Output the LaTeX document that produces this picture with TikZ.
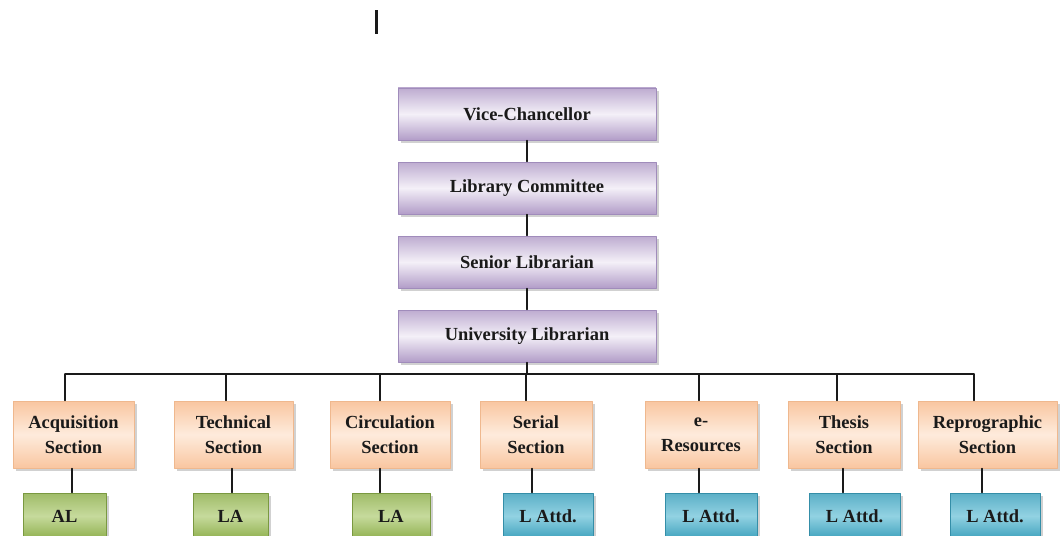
\documentclass[tikz,border=0pt]{standalone}
\usepackage{fontspec}
\setmainfont{Liberation Serif}
\usetikzlibrary{shadows,positioning,calc}
\definecolor{libink}{HTML}{1A1A1A}
\definecolor{libpurple}{HTML}{B29DC8}
\definecolor{libpurplelt}{HTML}{F4F0F8}
\definecolor{libpurpleln}{HTML}{A08CBB}
\definecolor{liborange}{HTML}{F9C6A0}
\definecolor{liborangelt}{HTML}{FEEBDC}
\definecolor{liborangeln}{HTML}{EFB88E}
\definecolor{libgreen}{HTML}{8FB04E}
\definecolor{libgreenlt}{HTML}{C6DA9C}
\definecolor{libgreenln}{HTML}{7A9940}
\definecolor{libblue}{HTML}{3EA1BD}
\definecolor{libbluelt}{HTML}{92D2E2}
\definecolor{libblueln}{HTML}{348EA8}

\begin{document}
\begin{tikzpicture}[x=0.02cm,y=-0.02cm,line cap=round,line join=round,
  font=\bfseries\fontsize{10.5}{14}\selectfont,text=libink,
  link/.style={draw=libink,line width=0.7pt},
  box/.style={draw,line width=0.5pt,align=center,inner sep=1pt,
    drop shadow={shadow xshift=1.8pt,shadow yshift=-1.8pt,fill=black!40,opacity=.45}},
  head/.style={box,draw=libpurpleln,top color=libpurple!85,bottom color=libpurple,
    middle color=libpurplelt,minimum width=5.16cm,minimum height=1.04cm},
  sec/.style={box,draw=liborangeln,top color=liborange,bottom color=liborange,
    middle color=liborangelt,minimum height=1.34cm},
  greenbox/.style={box,draw=libgreenln,top color=libgreen!85,bottom color=libgreen,
    middle color=libgreenlt,minimum height=0.92cm},
  bluebox/.style={box,draw=libblueln,top color=libblue!85,bottom color=libblue,
    middle color=libbluelt,minimum height=0.92cm}]
\path[use as bounding box] (0,0) rectangle (1061,536);
\fill[white] (0,0) rectangle (1061,536);
% stray mark above the chart
\fill[libink] (375,10) rectangle (378,34);
% top of the hierarchy
\node[head] (vc) at (527,114) {Vice-Chancellor};
\node[head] (lc) at (527,188) {Library Committee};
\node[head] (sl) at (527,262) {Senior Librarian};
\node[head] (ul) at (527,336) {University Librarian};
\draw[link] (vc)--(lc) (lc)--(sl) (sl)--(ul);
% sections
\foreach \n/\cx/\w/\lbl in {acq/73.5/121/{Acquisition\\Section},
    tech/233.5/119/{Technical\\Section},circ/390/120/{Circulation\\Section},
    ser/536/112/{Serial\\Section},eres/701/112/{e-\\Resources},
    thes/844/112/{Thesis\\Section},repro/987.5/139/{Reprographic\\Section}}
  \node[sec,minimum width=\w*0.02cm] (\n) at (\cx,434.5) {\lbl};
\coordinate (bus) at (527,374);
\draw[link] (ul)--(ul |- bus);
% drops from the bus sit a little left of each box centre
\foreach \n/\dx/\sx in {acq/-8.5/-1.5,tech/-7.5/-1.5,circ/-10/-10,ser/-10/-4,
    eres/-2/-2,thes/-7/-1,repro/-13.5/-5.5}{
  \coordinate (\n-in) at ($(\n.north)+(\dx,0)$);
  \coordinate (\n-out) at ($(\n.south)+(\sx,0)$);
  \draw[link] (\n-in |- bus)--(\n-in);
}
\draw[link] (acq-in |- bus)--(repro-in |- bus);
% staff under each section
\foreach \n/\cx/\w/\lbl in {al/64.5/83/AL,latech/230.5/75/LA,lacirc/391/78/LA}
  \node[greenbox,minimum width=\w*0.02cm] (\n) at (\cx,516) {\lbl};
\foreach \n/\cx/\w in {attser/548/90,atteres/711/92,attthes/854.5/91,attrepro/995/90}
  \node[bluebox,minimum width=\w*0.02cm] (\n) at (\cx,516) {L Attd.};
\foreach \n/\p in {al/acq,latech/tech,lacirc/circ,attser/ser,atteres/eres,
    attthes/thes,attrepro/repro}
  \draw[link] (\p-out)--(\p-out |- \n.north);
\end{tikzpicture}
\end{document}
